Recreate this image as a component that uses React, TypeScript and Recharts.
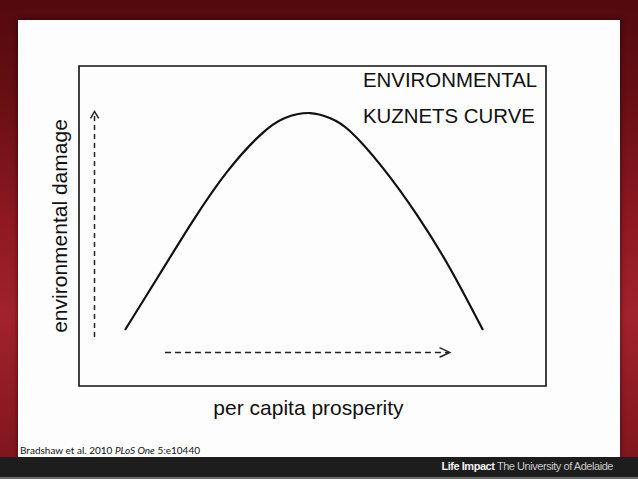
import React from "react";
import { LineChart, Line, XAxis, YAxis, ReferenceArea, Label } from "recharts";

// curve (x = prosperity 0-100, y = damage 0-100)
const prosperity = [9.85, 17.3, 24.4, 31.7, 38.8, 44.1, 49.5, 53.7, 58.0, 65.1, 72.4, 79.4, 86.5];
const damage = [17.5, 35.0, 51.6, 66.9, 78.4, 83.75, 85.3, 83.75, 79.7, 68.1, 53.4, 36.9, 17.5];

// dashed direction arrows
const upShaftX = [3.32, 3.32];
const upShaftY = [15.3, 84.7];
const upHeadX = [2.48, 3.32, 4.22];
const upHeadY = [83.6, 85.8, 83.6];
const rightShaftX = [18.4, 79.0];
const rightShaftY = [10.5, 10.5];
const rightHeadX = [77.2, 79.4, 77.2];
const rightHeadY = [12.0, 10.5, 9.0];

const titleLines = ["ENVIRONMENTAL", "KUZNETS CURVE"];
const xTitle = "per capita prosperity";
const yTitle = "environmental damage";

const zip = (xs: number[], ys: number[]) => xs.map((x, i) => ({ x, y: ys[i] }));
const curve = zip(prosperity, damage);

const FONT = "'Liberation Sans', Arial, sans-serif";

const XTitle = (p: any) => {
  const vb = p.viewBox;
  return (
    <text x={vb.x + vb.width / 2 - 4} y={vb.y + 29} textAnchor="middle" fontSize={21} fontFamily={FONT} fill="#111">
      {xTitle}
    </text>
  );
};

const YTitle = (p: any) => {
  const vb = p.viewBox;
  const cx = vb.x + 67;
  const cy = vb.y + vb.height / 2;
  return (
    <text x={cx} y={cy} transform={`rotate(-90, ${cx}, ${cy})`} textAnchor="middle" fontSize={21} fontFamily={FONT} fill="#111">
      {yTitle}
    </text>
  );
};

const Title = (p: any) => {
  const vb = p.viewBox;
  return (
    <g>
      {titleLines.map((t, i) => (
        <text key={t} x={vb.x + 284} y={vb.y + 20.5 + i * 36.5} fontSize={20.4} fontFamily={FONT} fill="#111">
          {t}
        </text>
      ))}
    </g>
  );
};

export default function App() {
  return (
    <div
      style={{
        position: "fixed", left: 0, top: 0, width: 638, height: 479, overflow: "hidden",
        background: "linear-gradient(180deg, #520a0e 0%, #640e13 18%, #901922 48%, #a1222c 66%, #7c141b 100%)",
      }}
    >
      <div
        style={{
          position: "absolute", left: 18, top: 20, width: 602, height: 437,
          background: "#fdfdfd", boxShadow: "0 0 5px rgba(0,0,0,0.55)",
        }}
      />
      <div
        style={{
          position: "absolute", left: 20, top: 444, fontFamily: "Lato, 'Open Sans', sans-serif",
          fontSize: 10, color: "#111", whiteSpace: "nowrap",
        }}
      >
        Bradshaw et al. 2010 <i>PLoS One</i> 5:e10440
      </div>
      <div style={{ position: "absolute", left: 0, top: 457, width: 638, height: 20, background: "#1d1d1d" }} />
      <div style={{ position: "absolute", left: 0, top: 477, width: 638, height: 2, background: "#6b6b6b" }} />
      <div
        style={{
          position: "absolute", right: 25, top: 460, fontFamily: FONT, fontSize: 11,
          color: "#c9c9c9", whiteSpace: "nowrap", letterSpacing: -0.45,
        }}
      >
        <b style={{ color: "#f2f2f2" }}>Life Impact</b> The University of Adelaide
      </div>

      <div style={{ position: "absolute", left: 0, top: 0 }}>
        <LineChart width={638} height={479} margin={{ top: 66, right: 92, bottom: 0, left: 0 }}>
          <XAxis type="number" dataKey="x" domain={[0, 100]} height={93} tick={false} axisLine={false} tickLine={false}>
            <Label content={XTitle} />
          </XAxis>
          <YAxis type="number" dataKey="y" domain={[0, 100]} width={79} tick={false} axisLine={false} tickLine={false}>
            <Label content={YTitle} />
          </YAxis>
          <ReferenceArea x1={0} x2={100} y1={0} y2={100} fill="none" stroke="#111" strokeWidth={1.6} fillOpacity={0} ifOverflow="visible">
            <Label content={Title} />
          </ReferenceArea>
          <Line data={zip(upShaftX, upShaftY)} dataKey="y" stroke="#222" strokeWidth={1.5} strokeDasharray="5 4" dot={false} isAnimationActive={false} type="linear" />
          <Line data={zip(upHeadX, upHeadY)} dataKey="y" stroke="#222" strokeWidth={1.5} dot={false} isAnimationActive={false} type="linear" />
          <Line data={zip(rightShaftX, rightShaftY)} dataKey="y" stroke="#222" strokeWidth={1.5} strokeDasharray="6 4" dot={false} isAnimationActive={false} type="linear" />
          <Line data={zip(rightHeadX, rightHeadY)} dataKey="y" stroke="#222" strokeWidth={1.5} dot={false} isAnimationActive={false} type="linear" />
          <Line data={curve} dataKey="y" stroke="#111" strokeWidth={2.2} dot={false} isAnimationActive={false} type="natural" />
        </LineChart>
      </div>
    </div>
  );
}
